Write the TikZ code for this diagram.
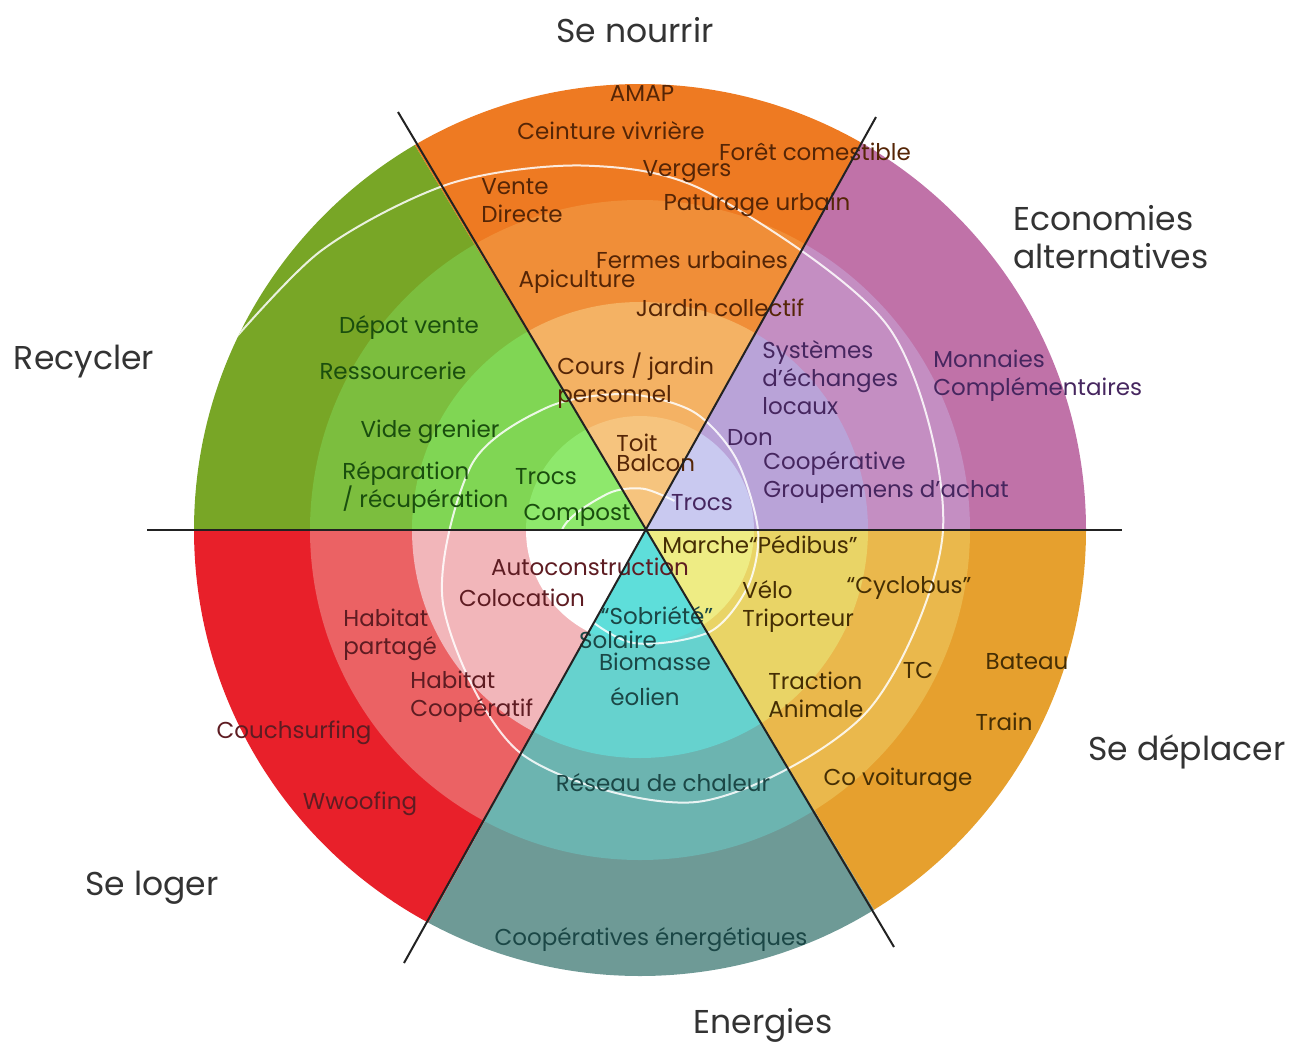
\documentclass[tikz,border=0pt]{standalone}
\usepackage{fontspec}
\setmainfont{Poppins}
\usepackage{tikz}

\definecolor{nourrirA}{HTML}{EE7A22}
\definecolor{nourrirB}{HTML}{F08E38}
\definecolor{nourrirC}{HTML}{F4B264}
\definecolor{nourrirD}{HTML}{F6C47E}
\definecolor{ecoA}{HTML}{C072A8}
\definecolor{ecoB}{HTML}{C48EC2}
\definecolor{ecoC}{HTML}{B9A3D8}
\definecolor{ecoD}{HTML}{C9C9F0}
\definecolor{recyclerA}{HTML}{78A626}
\definecolor{recyclerB}{HTML}{7CBE3E}
\definecolor{recyclerC}{HTML}{80D654}
\definecolor{recyclerD}{HTML}{8EE86C}
\definecolor{logerA}{HTML}{E8202A}
\definecolor{logerB}{HTML}{EB6264}
\definecolor{logerC}{HTML}{F2B6BA}
\definecolor{logerD}{HTML}{FFFFFF}
\definecolor{energieA}{HTML}{6E9A96}
\definecolor{energieB}{HTML}{6CB4B0}
\definecolor{energieC}{HTML}{66D2CE}
\definecolor{energieD}{HTML}{5EDEDA}
\definecolor{deplacerA}{HTML}{E6A02E}
\definecolor{deplacerB}{HTML}{EAB84C}
\definecolor{deplacerC}{HTML}{E9D466}
\definecolor{deplacerD}{HTML}{EEEC84}
\definecolor{nourrirtxt}{HTML}{552506}
\definecolor{recyclertxt}{HTML}{1A4E0E}
\definecolor{ecotxt}{HTML}{46265F}
\definecolor{logertxt}{HTML}{5E1C22}
\definecolor{energietxt}{HTML}{1B4746}
\definecolor{deplacertxt}{HTML}{452E04}
\definecolor{titletxt}{HTML}{333333}
\definecolor{linecol}{HTML}{222222}

\tikzset{
	lbl/.style={font=\fontsize{11.5}{14}\selectfont, align=left, inner sep=0pt},
	ttl/.style={font=\fontsize{16.5}{19}\selectfont, text=titletxt, align=left, inner sep=0pt},
	sep/.style={draw=linecol, line width=1pt},
	spiral/.style={draw=white, line width=1pt, opacity=0.85},
}

\begin{document}
\begin{tikzpicture}[x=0.5pt, y=-0.5pt]
		\useasboundingbox (0,0) rectangle (1295,1044);
		\coordinate (o) at (646,530);
		\coordinate (c) at (640,530);

		\begin{scope}
			\clip (o) -- +(-61:700) -- +(-91:700) -- +(-121:700) -- cycle;
			\fill[nourrirA] (c) circle[radius=446];
			\fill[nourrirB] (c) circle[radius=330];
			\fill[nourrirC] (c) circle[radius=228];
			\fill[nourrirD] (c) circle[radius=114];
		\end{scope}
		\begin{scope}
			\clip (o) -- +(-121:700) -- +(-151:700) -- +(-180:700) -- cycle;
			\fill[recyclerA] (c) circle[radius=446];
			\fill[recyclerB] (c) circle[radius=330];
			\fill[recyclerC] (c) circle[radius=228];
			\fill[recyclerD] (c) circle[radius=114];
		\end{scope}
		\begin{scope}
			\clip (o) -- +(-180:700) -- +(-210:700) -- +(-241:700) -- cycle;
			\fill[logerA] (c) circle[radius=446];
			\fill[logerB] (c) circle[radius=330];
			\fill[logerC] (c) circle[radius=228];
			\fill[logerD] (c) circle[radius=114];
		\end{scope}
		\begin{scope}
			\clip (o) -- +(-241:700) -- +(-271:700) -- +(-301:700) -- cycle;
			\fill[energieA] (c) circle[radius=446];
			\fill[energieB] (c) circle[radius=330];
			\fill[energieC] (c) circle[radius=228];
			\fill[energieD] (c) circle[radius=114];
		\end{scope}
		\begin{scope}
			\clip (o) -- +(-301:700) -- +(-330:700) -- +(-360:700) -- cycle;
			\fill[deplacerA] (c) circle[radius=446];
			\fill[deplacerB] (c) circle[radius=330];
			\fill[deplacerC] (c) circle[radius=228];
			\fill[deplacerD] (c) circle[radius=114];
		\end{scope}
		\begin{scope}
			\clip (o) -- +(0:700) -- +(-30:700) -- +(-61:700) -- cycle;
			\fill[ecoA] (c) circle[radius=446];
			\fill[ecoB] (c) circle[radius=330];
			\fill[ecoC] (c) circle[radius=228];
			\fill[ecoD] (c) circle[radius=114];
		\end{scope}

		\begin{scope}
			\clip (c) circle[radius=446];
			\draw[spiral, shift={(650,530)}] plot[smooth] coordinates {
				(-50:38) (-100:42) (-140:56) (-180:88) (-220:106) (-260:114)
				(-300:118) (-330:113) (-360:108) (-400:112) (-430:126) (-460:138)
				(-490:160) (-520:190) (-560:220) (-600:258) (-640:276) (-680:283)
				(-720:293) (-760:313) (-800:342) (-820:370) (-840:400) (-860:432)
				(-880:470)};
		\end{scope}

		\node[ttl] (nourrir) at (635,30) {Se nourrir};
		\node[ttl, anchor=west] (economies) at (1013,237) {Economies\\alternatives};
		\node[ttl] (recycler) at (84,362) {Recycler};
		\node[ttl] (deplacer) at (1187,752) {Se déplacer};
		\node[ttl] (loger) at (152,888) {Se loger};
		\node[ttl] (energies) at (763,1025) {Energies};

		\node[lbl, text=nourrirtxt] (amap) at (642,93) {AMAP};
		\node[lbl, text=nourrirtxt] (ceinture) at (611,131) {Ceinture vivrière};
		\node[lbl, text=nourrirtxt] (foret) at (815,152) {Forêt comestible};
		\node[lbl, text=nourrirtxt] (vergers) at (687,172) {Vergers};
		\node[lbl, text=nourrirtxt, anchor=west] (vente) at (481,201) {Vente\\Directe};
		\node[lbl, text=nourrirtxt] (paturage) at (757,205) {Paturage urbain};
		\node[lbl, text=nourrirtxt] (fermes) at (692,260) {Fermes urbaines};
		\node[lbl, text=nourrirtxt] (apiculture) at (577,282) {Apiculture};
		\node[lbl, text=nourrirtxt] (jardin) at (720,308) {Jardin collectif};
		\node[lbl, text=nourrirtxt, anchor=west] (cours) at (557,381) {Cours / jardin\\personnel};
		\node[lbl, text=nourrirtxt, anchor=west, font=\fontsize{11.5}{10}\selectfont] (toit) at (616,453) {Toit\\Balcon};

		\node[lbl, text=recyclertxt] (depot) at (409,327) {Dépot vente};
		\node[lbl, text=recyclertxt] (ressourcerie) at (393,371) {Ressourcerie};
		\node[lbl, text=recyclertxt] (vide) at (430,432) {Vide grenier};
		\node[lbl, text=recyclertxt, anchor=west] (reparation) at (342,487) {Réparation\\/ récupération};
		\node[lbl, text=recyclertxt] (trocsv) at (546,477) {Trocs};
		\node[lbl, text=recyclertxt] (compost) at (577,515) {Compost};

		\node[lbl, text=ecotxt, anchor=west] (systemes) at (762,378) {Systèmes\\d’échanges\\locaux};
		\node[lbl, text=ecotxt, anchor=west] (monnaies) at (933,376) {Monnaies\\Complémentaires};
		\node[lbl, text=ecotxt] (don) at (750,438) {Don};
		\node[lbl, text=ecotxt, anchor=west] (groupemens) at (763,477) {Coopérative\\Groupemens d’achat};
		\node[lbl, text=ecotxt] (trocsp) at (702,503) {Trocs};

		\node[lbl, text=logertxt] (autoconstruction) at (590,567) {Autoconstruction};
		\node[lbl, text=logertxt] (colocation) at (522,598) {Colocation};
		\node[lbl, text=logertxt, anchor=west] (partage) at (343,635) {Habitat\\partagé};
		\node[lbl, text=logertxt, anchor=west] (cooperatif) at (410,697) {Habitat\\Coopératif};
		\node[lbl, text=logertxt] (couchsurfing) at (294,733) {Couchsurfing};
		\node[lbl, text=logertxt] (wwoofing) at (360,804) {Wwoofing};

		\node[lbl, text=energietxt] (sobriete) at (657,616) {“Sobriété”};
		\node[lbl, text=energietxt] (solaire) at (618,640) {Solaire};
		\node[lbl, text=energietxt] (biomasse) at (655,662) {Biomasse};
		\node[lbl, text=energietxt] (eolien) at (645,697) {éolien};
		\node[lbl, text=energietxt] (reseau) at (663,783) {Réseau de chaleur};
		\node[lbl, text=energietxt] (cooperatives) at (651,940) {Coopératives énergétiques};

		\node[lbl, text=deplacertxt] (marche) at (760,545) {Marche“Pédibus”};
		\node[lbl, text=deplacertxt] (cyclobus) at (909,588) {“Cyclobus”};
		\node[lbl, text=deplacertxt, anchor=west] (velo) at (742,606) {Vélo\\Triporteur};
		\node[lbl, text=deplacertxt, anchor=west] (traction) at (768,695) {Traction\\Animale};
		\node[lbl, text=deplacertxt] (tc) at (918,670) {TC};
		\node[lbl, text=deplacertxt] (bateau) at (1027,662) {Bateau};
		\node[lbl, text=deplacertxt] (train) at (1004,722) {Train};
		\node[lbl, text=deplacertxt] (covoiturage) at (898,780) {Co voiturage};

		\coordinate (hl) at (147,530);
		\coordinate (hr) at (1122,530);
		\coordinate (dtl) at (398,112);
		\coordinate (dbr) at (894,947);
		\coordinate (dtr) at (876,117);
		\coordinate (dbl) at (404,963);
		\draw[sep] (hl) -- (hr);
		\draw[sep] (dtl) -- (dbr);
		\draw[sep] (dtr) -- (dbl);
	\end{tikzpicture}
\end{document}
